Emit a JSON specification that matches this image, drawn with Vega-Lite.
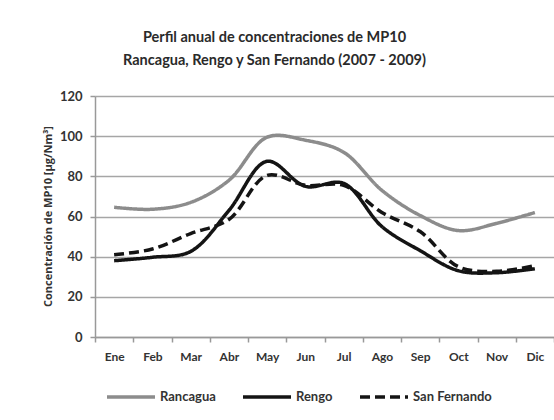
{
  "$schema": "https://vega.github.io/schema/vega-lite/v6.json",
  "width": 459,
  "height": 241,
  "autosize": {"type": "none"},
  "padding": {"left": 95, "top": 96, "right": 0, "bottom": 83},
  "background": "white",
  "title": {
    "text": ["Perfil anual de concentraciones  de MP10", "Rancagua, Rengo y San Fernando  (2007 - 2009)"],
    "font": "Lato",
    "fontSize": 14.5,
    "fontWeight": "bold",
    "color": "#2a2a2a",
    "lineHeight": 23,
    "anchor": "middle",
    "dx": -50,
    "offset": 22
  },
  "data": {
    "values": [
      {"mes": "Ene", "serie": "Rancagua", "valor": 64.6},
      {"mes": "Feb", "serie": "Rancagua", "valor": 63.6},
      {"mes": "Mar", "serie": "Rancagua", "valor": 67},
      {"mes": "Abr", "serie": "Rancagua", "valor": 78},
      {"mes": "May", "serie": "Rancagua", "valor": 99.5},
      {"mes": "Jun", "serie": "Rancagua", "valor": 98},
      {"mes": "Jul", "serie": "Rancagua", "valor": 92},
      {"mes": "Ago", "serie": "Rancagua", "valor": 73},
      {"mes": "Sep", "serie": "Rancagua", "valor": 60.5},
      {"mes": "Oct", "serie": "Rancagua", "valor": 53},
      {"mes": "Nov", "serie": "Rancagua", "valor": 56.6},
      {"mes": "Dic", "serie": "Rancagua", "valor": 62},
      {"mes": "Ene", "serie": "Rengo", "valor": 38},
      {"mes": "Feb", "serie": "Rengo", "valor": 39.7},
      {"mes": "Mar", "serie": "Rengo", "valor": 42.6},
      {"mes": "Abr", "serie": "Rengo", "valor": 63},
      {"mes": "May", "serie": "Rengo", "valor": 87.5},
      {"mes": "Jun", "serie": "Rengo", "valor": 75},
      {"mes": "Jul", "serie": "Rengo", "valor": 76.5},
      {"mes": "Ago", "serie": "Rengo", "valor": 55},
      {"mes": "Sep", "serie": "Rengo", "valor": 43},
      {"mes": "Oct", "serie": "Rengo", "valor": 33},
      {"mes": "Nov", "serie": "Rengo", "valor": 32},
      {"mes": "Dic", "serie": "Rengo", "valor": 34},
      {"mes": "Ene", "serie": "San Fernando", "valor": 41},
      {"mes": "Feb", "serie": "San Fernando", "valor": 43.8},
      {"mes": "Mar", "serie": "San Fernando", "valor": 51.5},
      {"mes": "Abr", "serie": "San Fernando", "valor": 58.5},
      {"mes": "May", "serie": "San Fernando", "valor": 80.5},
      {"mes": "Jun", "serie": "San Fernando", "valor": 75.5},
      {"mes": "Jul", "serie": "San Fernando", "valor": 75.5},
      {"mes": "Ago", "serie": "San Fernando", "valor": 62},
      {"mes": "Sep", "serie": "San Fernando", "valor": 52.5},
      {"mes": "Oct", "serie": "San Fernando", "valor": 35},
      {"mes": "Nov", "serie": "San Fernando", "valor": 32.7},
      {"mes": "Dic", "serie": "San Fernando", "valor": 35.5}
    ]
  },
  "mark": {"type": "line", "interpolate": "catmull-rom", "strokeWidth": 3.5, "strokeCap": "butt"},
  "encoding": {
    "x": {
      "field": "mes",
      "type": "ordinal",
      "sort": ["Ene", "Feb", "Mar", "Abr", "May", "Jun", "Jul", "Ago", "Sep", "Oct", "Nov", "Dic"],
      "scale": {"type": "band", "paddingInner": 0, "paddingOuter": 0},
      "axis": {
        "title": null,
        "tickBand": "extent",
        "labelAngle": 0,
        "grid": false,
        "domainColor": "#999999",
        "domainWidth": 1.5,
        "tickColor": "#999999",
        "tickWidth": 1.5,
        "tickSize": 5,
        "labelFont": "Lato",
        "labelFontSize": 12,
        "labelFontWeight": "bold",
        "labelColor": "#333333",
        "labelPadding": 9
      }
    },
    "y": {
      "field": "valor",
      "type": "quantitative",
      "scale": {"domain": [0, 120], "nice": false},
      "axis": {
        "values": [0, 20, 40, 60, 80, 100, 120],
        "title": "Concentración de MP10 [µg/Nm³]",
        "titleFont": "Open Sans",
        "titleFontSize": 11,
        "titleFontWeight": "bold",
        "titleColor": "#333333",
        "titleX": -47,
        "titleY": 120,
        "titleAngle": -90,
        "titleAlign": "center",
        "titleBaseline": "middle",
        "grid": true,
        "gridColor": "#a6a6a6",
        "gridWidth": 1.5,
        "domainColor": "#999999",
        "domainWidth": 1.5,
        "tickColor": "#999999",
        "tickWidth": 1.5,
        "tickSize": 5,
        "labelFont": "Lato",
        "labelFontSize": 13,
        "labelFontWeight": "bold",
        "labelColor": "#333333",
        "labelPadding": 8
      }
    },
    "color": {
      "field": "serie",
      "type": "nominal",
      "scale": {"domain": ["Rancagua", "Rengo", "San Fernando"], "range": ["#8c8c8c", "#141414", "#141414"]},
      "legend": {
        "title": null,
        "orient": "none",
        "direction": "horizontal",
        "legendX": 10,
        "legendY": 275,
        "symbolType": "stroke",
        "symbolSize": 2304,
        "symbolStrokeWidth": 3.5,
        "labelFont": "Lato",
        "labelFontSize": 13,
        "labelFontWeight": "bold",
        "labelColor": "#333333",
        "labelOffset": 3,
        "columnPadding": 20
      }
    },
    "strokeDash": {
      "field": "serie",
      "type": "nominal",
      "scale": {"domain": ["Rancagua", "Rengo", "San Fernando"], "range": [[1, 0], [1, 0], [10, 5]]},
      "legend": {
        "title": null,
        "orient": "none",
        "direction": "horizontal",
        "legendX": 10,
        "legendY": 275,
        "symbolType": "stroke",
        "symbolSize": 2304,
        "symbolStrokeWidth": 3.5,
        "labelFont": "Lato",
        "labelFontSize": 13,
        "labelFontWeight": "bold",
        "labelColor": "#333333",
        "labelOffset": 3,
        "columnPadding": 20
      }
    }
  },
  "config": {
    "view": {"stroke": null}
  }
}
